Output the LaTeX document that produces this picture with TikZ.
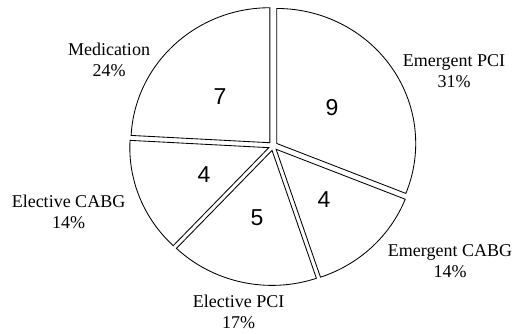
\documentclass[tikz,border=0pt]{standalone}
\usepackage{fontspec}
\setmainfont{Liberation Serif}
\newfontfamily\numfont{Liberation Sans}
\begin{document}
\begin{tikzpicture}[x=1pt,y=1pt]
\tikzstyle{slice}=[draw=black,line width=0.85pt,fill=white,line join=miter]
\tikzstyle{lab}=[align=center,font=\fontsize{18}{21}\selectfont,inner sep=0pt]
\tikzstyle{num}=[font=\numfont\fontsize{23}{23}\selectfont,inner sep=0pt]
\useasboundingbox (0,0) rectangle (527,334);
\coordinate (c) at (273,188);

% slices, each pushed out a little along its middle
\draw[slice] (c) ++(34.14:4.5) -- ++(90:139 and 135) arc[start angle=90,end angle=-21.72,x radius=139,y radius=135] -- cycle;
\draw[slice] (c) ++(-46.55:4.5) -- ++(-21.72:139 and 135) arc[start angle=-21.72,end angle=-71.38,x radius=139,y radius=135] -- cycle;
\draw[slice] (c) ++(-102.41:4.5) -- ++(-71.38:139 and 135) arc[start angle=-71.38,end angle=-133.45,x radius=139,y radius=135] -- cycle;
\draw[slice] (c) ++(-158.28:4.5) -- ++(-133.45:139 and 135) arc[start angle=-133.45,end angle=-183.10,x radius=139,y radius=135] -- cycle;
\draw[slice] (c) ++(133.45:4.5) -- ++(176.90:139 and 135) arc[start angle=176.90,end angle=90,x radius=139,y radius=135] -- cycle;

\node[num] at (220,237) (n1) {7};
\node[num] at (332,226) (n2) {9};
\node[num] at (204,159) (n3) {4};
\node[num] at (257,116) (n4) {5};
\node[num] at (324,134) (n5) {4};

\node[lab] at (109,274.5) (l1) {Medication\\24\%};
\node[lab] at (454,262.5) (l2) {Emergent PCI\\31\%};
\node[lab] at (68.5,122) (l3) {Elective CABG\\14\%};
\node[lab] at (450,73) (l4) {Emergent CABG\\14\%};
\node[lab] at (238.5,22) (l5) {Elective PCI\\17\%};
\end{tikzpicture}
\end{document}
